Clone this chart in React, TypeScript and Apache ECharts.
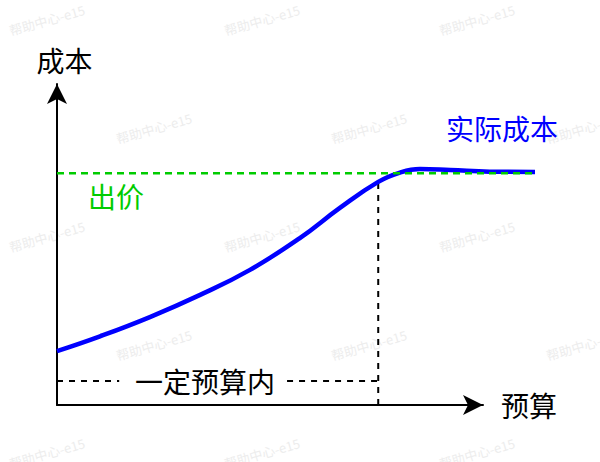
import React, { useEffect, useRef } from 'react';
import * as echarts from 'echarts';

// ============================================================
// Data (abstract units; axes run 0..100)
// ============================================================

const budget = [0, 10.1, 21.8, 33.6, 45.3, 57.0, 66.4, 75.4, 80.5, 85.2, 92.3, 101.6, 112.2];
const actualCost = [16.8, 21.4, 27.4, 34.3, 42.1, 52.0, 61.4, 69.5, 72.4, 73.5, 73.2, 72.7, 72.6];

const bidPrice = 72.2;
const bidSpan = [0, 112.2];

const budgetLimit = 75.4;
const budgetLimitTop = 70.5;

const withinBudgetLevel = 7.5;
const withinBudgetGap = [14.6, 54.0];

// the data grid runs past the end of the drawn x axis (curve goes beyond the arrow)
const dataXMax = 112.2;
const axisMax = 100;

const xAxisName = '预算';
const yAxisName = '成本';
const bidLabel = '出价';
const actualLabel = '实际成本';
const withinLabel = '一定预算内';
const watermarkText = '帮助中心-e15';

// ============================================================
// Styles
// ============================================================

const FONT = '"Noto Sans CJK SC", "Noto Sans", sans-serif';
const BLUE = '#0000ff';
const GREEN = '#00cc00';
const BLACK = '#000000';

const GREEN_DASH = [7, 5];
const BLACK_DASH = [6, 6];

// watermark grid, staggered rows
const buildWatermarks = () => {
  const items: any[] = [];
  for (let r = 0; r < 5; r++) {
    const y = 20 + r * 108.3;
    const x0 = r % 2 === 0 ? 47 : 154;
    for (let x = x0; x < 600; x += 215) {
      items.push({
        type: 'text',
        x,
        y,
        rotation: 0.28,
        z: 0,
        silent: true,
        style: {
          text: watermarkText,
          fill: '#ededed',
          fontSize: 13,
          fontFamily: FONT,
          align: 'center',
          verticalAlign: 'middle',
        },
      });
    }
  }
  return items;
};

const label = (text: string, x: number, y: number, fill: string) => ({
  type: 'text',
  x,
  y,
  z: 10,
  silent: true,
  style: {
    text,
    fill,
    fontSize: 28,
    fontFamily: FONT,
    align: 'center',
    verticalAlign: 'middle',
  },
});

const hiddenAxis = (gridIndex: number, max: number) => ({
  type: 'value' as const,
  gridIndex,
  min: 0,
  max,
  show: false,
});

const arrowAxis = (gridIndex: number, name: string, nameGap: number, nameTextStyle: any) => ({
  type: 'value' as const,
  gridIndex,
  min: 0,
  max: axisMax,
  name,
  nameLocation: 'end' as const,
  nameGap,
  nameTextStyle: {
    fontSize: 28,
    color: BLACK,
    fontFamily: FONT,
    ...nameTextStyle,
  },
  axisLine: {
    show: true,
    onZero: false,
    symbol: ['none', 'arrow'],
    symbolSize: [15, 20],
    lineStyle: { color: BLACK, width: 2 },
  },
  axisTick: { show: false },
  axisLabel: { show: false },
  splitLine: { show: false },
});

const segment = (data: number[][], color: string, width: number, dash: number[], z: number) => ({
  type: 'line',
  xAxisIndex: 0,
  yAxisIndex: 0,
  data,
  symbol: 'none',
  silent: true,
  lineStyle: { color, width, type: dash },
  z,
});

const App: React.FC = () => {
  const chartRef = useRef<HTMLDivElement>(null);

  useEffect(() => {
    if (!chartRef.current) return;
    const chart = echarts.init(chartRef.current, undefined, { renderer: 'svg' });

    const option: any = {
      animation: false,
      backgroundColor: '#ffffff',
      textStyle: { fontFamily: FONT },
      grid: [
        // data grid: wide enough for the plateau past the arrow
        { left: 57, right: 65, top: 84, bottom: 57, containLabel: false },
        // axis grid: ends where the x arrow sits
        { left: 57, right: 117, top: 84, bottom: 57, containLabel: false },
      ],
      xAxis: [
        hiddenAxis(0, dataXMax),
        arrowAxis(1, xAxisName, 18, { align: 'left', verticalAlign: 'middle' }),
      ],
      yAxis: [
        arrowAxis(0, yAxisName, 10, { align: 'center', verticalAlign: 'bottom', padding: [0, 0, 0, 15] }),
        hiddenAxis(1, axisMax),
      ],
      series: [
        {
          type: 'line',
          xAxisIndex: 0,
          yAxisIndex: 0,
          data: budget.map((x, i) => [x, actualCost[i]]),
          smooth: 0.45,
          showSymbol: false,
          symbol: 'none',
          silent: true,
          lineStyle: { color: BLUE, width: 4.5 },
          z: 3,
        },
        segment(bidSpan.map((x) => [x, bidPrice]), GREEN, 2.5, GREEN_DASH, 4),
        segment(
          [
            [budgetLimit, 0],
            [budgetLimit, budgetLimitTop],
          ],
          BLACK,
          2,
          BLACK_DASH,
          2
        ),
        segment(
          [
            [0, withinBudgetLevel],
            [withinBudgetGap[0], withinBudgetLevel],
          ],
          BLACK,
          2,
          BLACK_DASH,
          2
        ),
        segment(
          [
            [withinBudgetGap[1], withinBudgetLevel],
            [budgetLimit, withinBudgetLevel],
          ],
          BLACK,
          2,
          BLACK_DASH,
          2
        ),
      ],
      graphic: [
        ...buildWatermarks(),
        label(bidLabel, 116, 196, GREEN),
        label(actualLabel, 502, 128, BLUE),
        label(withinLabel, 205, 381, BLACK),
      ],
    };

    chart.setOption(option);

    return () => {
      chart.dispose();
    };
  }, []);

  return (
    <div
      ref={chartRef}
      style={{ position: 'absolute', left: 0, top: 0, width: 600, height: 462 }}
    />
  );
};

export default App;
